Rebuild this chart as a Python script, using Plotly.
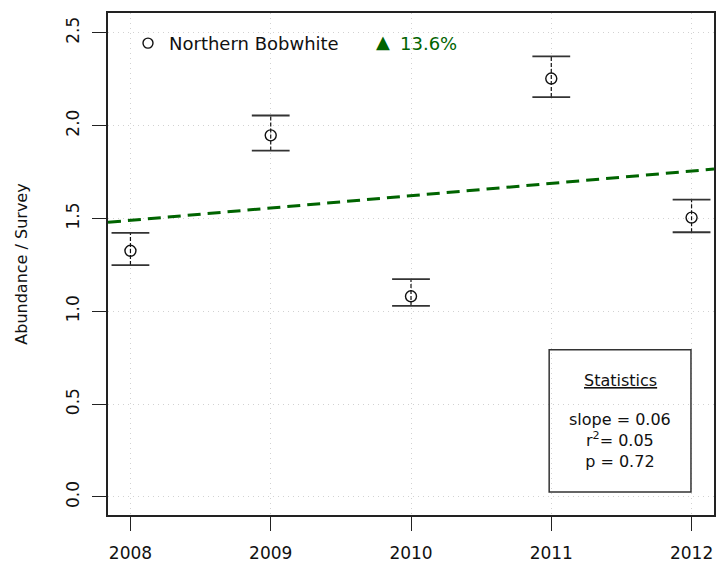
import numpy as np
import plotly.graph_objects as go

years = [2008, 2009, 2010, 2011, 2012]
abundance = [1.326, 1.948, 1.081, 2.254, 1.505]
err_low = [1.249, 1.866, 1.029, 2.154, 1.426]
err_high = [1.423, 2.055, 1.174, 2.373, 1.602]
y_ticks = [0.0, 0.5, 1.0, 1.5, 2.0, 2.5]
y_ticklabels = ["0.0", "0.5", "1.0", "1.5", "2.0", "2.5"]
species = "Northern Bobwhite"
change_label = "13.6%"
stats_title = "Statistics"
stats_lines = ["slope = 0.06", "r<sup>2</sup>= 0.05", "p = 0.72"]

FONT = "'DejaVu Sans', sans-serif"
GREEN = "#006400"

# regression trend line
coef = np.polyfit(years, abundance, 1)
xr = [2007.84, 2012.16]
trend_y = [coef[0] * x + coef[1] for x in xr]

fig = go.Figure()

# trend line
fig.add_trace(go.Scatter(x=xr, y=trend_y, mode="lines",
                         line=dict(color=GREEN, width=3, dash="13px,7px"),
                         hoverinfo="skip", showlegend=False))

# dashed stems
sx, sy = [], []
for x, lo, hi in zip(years, err_low, err_high):
    sx += [x, x, None]
    sy += [lo, hi, None]
fig.add_trace(go.Scatter(x=sx, y=sy, mode="lines",
                         line=dict(color="#111111", width=1.2, dash="4px,2px"),
                         hoverinfo="skip", showlegend=False))
# caps
for arr in (err_low, err_high):
    fig.add_trace(go.Scatter(x=years, y=arr, mode="markers",
                             marker=dict(symbol="line-ew", size=27,
                                         line=dict(color="#333333", width=1.8)),
                             hoverinfo="skip", showlegend=False))
# points
fig.add_trace(go.Scatter(x=years, y=abundance, mode="markers",
                         marker=dict(symbol="circle-open", size=11,
                                     line=dict(color="#111111", width=1.4),
                                     color="#111111"),
                         showlegend=False))

grid = dict(showgrid=True, gridcolor="#d2d2d2", griddash="1px,4px", gridwidth=1)
fig.update_xaxes(range=xr, tickvals=years, ticktext=[str(y) for y in years],
                 ticks="outside", ticklen=14, tickwidth=1.2, tickcolor="#222222",
                 showline=True, linecolor="#222222", linewidth=1.8, mirror=True,
                 zeroline=False, ticklabelstandoff=8, automargin=False,
                 tickfont=dict(family=FONT, size=17, color="#111111"), **grid)
fig.update_yaxes(range=[-0.097, 2.607], tickvals=y_ticks, ticktext=y_ticklabels,
                 ticks="outside", ticklen=14, tickwidth=1.2, tickcolor="#222222",
                 showline=True, linecolor="#222222", linewidth=1.8, mirror=True,
                 zeroline=False, tickangle=-90, ticklabelstandoff=6, automargin=False,
                 tickfont=dict(family=FONT, size=17, color="#111111"),
                 title=dict(text="Abundance / Survey", standoff=32,
                            font=dict(family=FONT, size=16, color="#111111")),
                 **grid)

# legend-like header
fig.add_shape(type="circle", xref="paper", yref="paper", xsizemode="pixel", ysizemode="pixel",
              xanchor=0.066, yanchor=0.940, x0=-5, x1=5, y0=-5, y1=5,
              line=dict(color="#111111", width=1.4))
fig.add_annotation(xref="paper", yref="paper", x=0.098, y=0.940, xanchor="left", yanchor="middle",
                   text=species, showarrow=False, font=dict(family=FONT, size=18, color="#111111"))
fig.add_annotation(xref="paper", yref="paper", x=0.454, y=0.943, xanchor="center", yanchor="middle",
                   text="▲", showarrow=False, font=dict(family=FONT, size=18, color=GREEN))
fig.add_annotation(xref="paper", yref="paper", x=0.478, y=0.940, xanchor="left", yanchor="middle",
                   text=change_label, showarrow=False, font=dict(family=FONT, size=18, color=GREEN))

# statistics box
fig.add_shape(type="rect", xref="paper", yref="paper", x0=0.728, x1=0.962, y0=0.046, y1=0.329,
              line=dict(color="#333333", width=1.5), fillcolor="rgba(0,0,0,0)")
fig.add_annotation(xref="paper", yref="paper", x=0.845, y=0.267, xanchor="center", yanchor="middle",
                   text="<u>" + stats_title + "</u>",
                   showarrow=False, font=dict(family=FONT, size=16, color="#111111"))
fig.add_annotation(xref="paper", yref="paper", x=0.845, y=0.149, xanchor="center", yanchor="middle",
                   text="<br>".join(stats_lines), align="center",
                   showarrow=False, font=dict(family=FONT, size=16, color="#111111"))

fig.update_layout(width=728, height=564, margin=dict(l=108, r=14, t=13, b=49),
                  plot_bgcolor="white", paper_bgcolor="white", showlegend=False)
fig.write_html("out.html", config={"displayModeBar": False},
               post_script="document.body.style.margin='0';document.body.style.overflow='hidden';")
